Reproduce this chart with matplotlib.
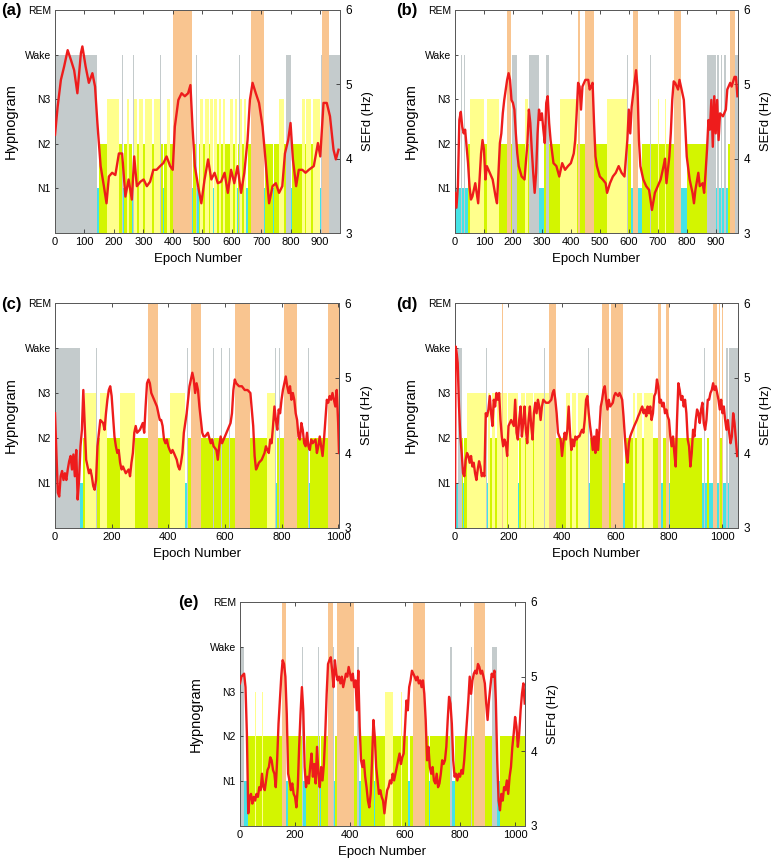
import numpy as np
import matplotlib.pyplot as plt

plt.rcParams['font.family'] = ['Liberation Sans', 'DejaVu Sans']

# hypnogram stages: 1=N1, 2=N2, 3=N3, 4=Wake, 5=REM
stage_labels = ['N1', 'N2', 'N3', 'Wake', 'REM']
stage_colors = {1: '#45e3e6', 2: '#d3f500', 3: '#ffff8c', 4: '#c4cbcc', 5: '#f9c590'}

# ---------------- panel (a) ----------------
a_n_epochs = 968
a_seg_start = [0, 144, 150, 158, 160, 177, 217, 228, 230, 234,
               245, 252, 262, 266, 268, 278, 284, 300, 306, 330,
               336, 357, 359, 366, 369, 380, 392, 402, 464, 468,
               480, 482, 488, 494, 502, 508, 522, 528, 536, 538,
               541, 550, 556, 564, 570, 578, 586, 588, 596, 604,
               610, 618, 621, 626, 628, 636, 642, 648, 650, 654,
               666, 710, 714, 740, 743, 760, 778, 783, 800, 806,
               840, 848, 854, 870, 876, 900, 903, 906, 929]
a_seg_stage = [4, 1, 2, 4, 2, 3, 2, 4, 1, 2,
               3, 2, 1, 4, 3, 2, 3, 2, 3, 2,
               3, 4, 2, 1, 2, 3, 2, 5, 1, 2,
               4, 1, 2, 3, 2, 3, 2, 3, 4, 1,
               3, 2, 3, 2, 3, 2, 4, 2, 3, 2,
               3, 1, 2, 4, 3, 2, 3, 4, 1, 2,
               5, 1, 2, 1, 2, 3, 2, 4, 1, 2,
               3, 2, 3, 2, 3, 1, 4, 5, 4]
a_epochs = [0, 9, 20, 31, 43, 54, 65, 76, 88, 93,
            104, 115, 127, 136, 144, 149, 155, 166, 175, 183,
            194, 205, 217, 228, 239, 250, 261, 269, 278, 290,
            301, 312, 323, 334, 345, 357, 368, 379, 391, 400,
            407, 419, 430, 441, 452, 460, 467, 475, 486, 497,
            508, 520, 531, 542, 553, 564, 576, 587, 598, 609,
            620, 632, 643, 654, 662, 671, 682, 693, 705, 714,
            722, 727, 739, 750, 761, 772, 781, 792, 800, 808,
            819, 828, 840, 851, 862, 879, 893, 901, 912, 923,
            934, 946, 954, 963]
a_sefd = [4.32, 4.70, 5.06, 5.24, 5.46, 5.33, 5.19, 4.88, 5.42, 5.51,
          5.24, 5.02, 5.15, 4.97, 4.48, 4.21, 3.90, 3.63, 3.40, 3.76,
          3.81, 3.78, 4.07, 4.07, 3.49, 3.72, 3.45, 4.03, 3.63, 3.69,
          3.72, 3.63, 3.69, 3.85, 3.85, 3.90, 3.94, 4.03, 3.90, 3.85,
          4.43, 4.79, 4.88, 4.84, 4.88, 4.99, 4.43, 3.90, 3.63, 3.40,
          3.72, 3.99, 3.72, 3.81, 3.67, 3.69, 3.81, 3.54, 3.85, 3.67,
          3.90, 3.54, 3.81, 4.25, 4.79, 5.02, 4.88, 4.75, 4.43, 4.03,
          3.63, 3.40, 3.63, 3.67, 3.54, 3.63, 4.07, 4.25, 4.48, 3.99,
          3.63, 3.85, 3.85, 3.81, 3.85, 3.90, 4.21, 4.03, 4.75, 4.75,
          4.57, 4.12, 3.99, 4.12]

# ---------------- panel (b) ----------------
b_n_epochs = 977
b_seg_start = [0, 5, 20, 24, 32, 34, 44, 52, 100, 109,
               152, 179, 195, 198, 215, 240, 252, 256, 290, 306,
               313, 324, 364, 422, 424, 431, 450, 481, 525, 595,
               598, 606, 613, 633, 645, 672, 675, 700, 703, 725,
               728, 756, 780, 800, 870, 900, 906, 912, 918, 922,
               930, 934, 944, 948, 966]
b_seg_stage = [4, 1, 4, 1, 4, 1, 2, 3, 2, 3,
               2, 5, 2, 4, 2, 3, 2, 4, 1, 2,
               4, 2, 3, 2, 5, 2, 5, 2, 3, 4,
               2, 1, 5, 1, 2, 4, 2, 3, 2, 3,
               2, 5, 1, 2, 4, 1, 4, 1, 4, 1,
               4, 1, 2, 5, 4]
b_epochs = [0, 5, 10, 15, 20, 25, 30, 35, 40, 45,
            50, 55, 60, 70, 80, 90, 95, 100, 105, 110,
            120, 130, 140, 145, 150, 155, 160, 165, 170, 180,
            185, 190, 195, 200, 205, 210, 215, 220, 230, 240,
            250, 255, 260, 265, 270, 275, 280, 285, 290, 295,
            300, 305, 310, 315, 320, 325, 330, 340, 350, 360,
            370, 380, 390, 400, 410, 415, 420, 425, 430, 435,
            440, 450, 460, 465, 470, 475, 480, 485, 490, 500,
            510, 520, 525, 535, 545, 555, 565, 575, 585, 595,
            600, 605, 610, 620, 625, 630, 635, 640, 650, 660,
            670, 680, 690, 700, 710, 720, 725, 730, 740, 745,
            750, 755, 760, 770, 775, 780, 790, 795, 800, 810,
            820, 825, 830, 840, 845, 855, 860, 865, 870, 875,
            880, 885, 890, 895, 900, 905, 910, 915, 925, 935,
            940, 950, 955, 965, 970, 975]
b_sefd = [3.54, 3.34, 3.63, 4.52, 4.63, 4.43, 4.34, 4.39, 4.16, 3.94,
          3.63, 3.45, 3.49, 3.67, 3.40, 4.07, 4.25, 4.12, 3.72, 3.90,
          3.81, 3.72, 3.49, 3.40, 3.81, 4.21, 4.34, 4.61, 4.79, 5.06,
          5.15, 5.06, 4.79, 4.75, 4.66, 4.34, 4.07, 3.90, 3.76, 3.72,
          4.21, 4.66, 4.48, 4.12, 3.81, 3.54, 3.81, 4.34, 4.66, 4.52,
          4.61, 4.39, 4.21, 4.75, 4.84, 4.48, 4.25, 3.94, 3.90, 3.76,
          3.94, 3.85, 3.90, 3.94, 4.07, 4.25, 4.61, 5.02, 4.97, 4.66,
          4.97, 5.06, 5.06, 4.93, 4.97, 5.02, 4.48, 4.03, 3.90, 3.76,
          3.72, 3.67, 3.54, 3.67, 3.76, 3.81, 3.90, 3.81, 3.76, 4.25,
          4.66, 4.34, 4.70, 5.02, 5.19, 4.97, 4.25, 3.90, 3.72, 3.63,
          3.58, 3.31, 3.54, 3.63, 3.72, 3.90, 4.00, 3.67, 4.03, 4.34,
          4.79, 5.04, 5.02, 4.93, 5.06, 4.97, 4.79, 4.43, 4.03, 3.72,
          3.54, 3.40, 3.58, 3.81, 3.63, 3.67, 3.54, 3.81, 4.12, 4.52,
          4.39, 4.79, 4.16, 4.84, 4.34, 4.79, 4.25, 4.61, 4.57, 4.66,
          4.93, 5.02, 4.97, 5.10, 5.10, 4.84]

# ---------------- panel (c) ----------------
c_n_epochs = 1003
c_seg_start = [0, 88, 98, 100, 106, 145, 147, 160, 185, 194,
               196, 230, 281, 283, 330, 365, 405, 420, 422, 460,
               466, 468, 479, 515, 558, 560, 588, 590, 616, 618,
               635, 690, 750, 778, 780, 785, 792, 795, 810, 855,
               893, 896, 900, 965]
c_seg_stage = [4, 1, 4, 2, 3, 4, 2, 3, 2, 4,
               2, 3, 4, 2, 5, 2, 3, 4, 3, 1,
               4, 2, 5, 2, 4, 2, 4, 2, 4, 2,
               5, 2, 3, 4, 1, 2, 4, 2, 5, 2,
               4, 1, 2, 5]
c_epochs = [0, 5, 10, 15, 20, 25, 30, 35, 40, 45,
            50, 55, 60, 65, 70, 75, 80, 85, 90, 95,
            100, 105, 110, 115, 120, 125, 130, 135, 140, 145,
            150, 155, 160, 170, 175, 180, 185, 190, 195, 200,
            205, 210, 215, 220, 225, 230, 235, 240, 250, 260,
            265, 270, 275, 280, 285, 290, 300, 310, 315, 320,
            325, 330, 335, 340, 350, 360, 365, 370, 375, 380,
            385, 390, 395, 400, 405, 410, 415, 420, 430, 435,
            440, 445, 450, 455, 460, 465, 470, 475, 480, 485,
            490, 495, 500, 505, 510, 515, 520, 525, 530, 540,
            550, 555, 560, 570, 575, 580, 585, 590, 600, 610,
            620, 625, 630, 635, 640, 650, 660, 670, 680, 690,
            700, 705, 710, 715, 720, 730, 740, 745, 750, 755,
            760, 765, 770, 775, 780, 785, 790, 795, 800, 805,
            810, 815, 820, 825, 830, 835, 840, 845, 850, 855,
            860, 865, 870, 875, 880, 885, 890, 895, 900, 905,
            910, 920, 925, 930, 935, 940, 945, 950, 955, 960,
            965, 970, 975, 980, 985, 990, 995, 1000, 1003]
c_sefd = [4.53, 4.00, 3.47, 3.42, 3.69, 3.76, 3.64, 3.73, 3.64, 3.78,
          3.89, 3.96, 3.78, 3.98, 3.69, 4.04, 3.38, 3.64, 4.09, 4.31,
          4.84, 4.36, 3.91, 3.82, 3.73, 3.78, 3.69, 3.56, 3.51, 3.64,
          4.09, 4.27, 4.44, 4.40, 4.31, 4.53, 4.71, 4.84, 4.89, 4.76,
          4.49, 4.22, 4.09, 4.00, 4.04, 3.87, 3.78, 3.82, 3.73, 3.78,
          3.69, 3.87, 4.00, 4.27, 4.36, 4.27, 4.31, 4.40, 4.27, 4.62,
          4.93, 4.98, 4.93, 4.80, 4.71, 4.62, 4.53, 4.44, 4.44, 4.36,
          4.18, 4.13, 4.18, 4.09, 4.04, 4.00, 4.04, 4.00, 3.91, 3.82,
          3.78, 3.87, 4.00, 4.27, 4.40, 4.53, 4.71, 4.89, 4.98, 5.07,
          4.98, 4.80, 4.93, 4.84, 4.62, 4.44, 4.27, 4.22, 4.22, 4.27,
          4.13, 4.18, 4.09, 4.04, 3.91, 4.09, 4.22, 4.13, 4.22, 4.31,
          4.40, 4.53, 4.84, 4.98, 4.93, 4.89, 4.89, 4.84, 4.84, 4.80,
          4.36, 3.96, 3.78, 3.82, 3.87, 3.91, 4.00, 4.09, 4.04, 4.00,
          4.18, 4.13, 4.36, 4.62, 4.44, 4.31, 4.58, 4.53, 4.71, 4.84,
          4.93, 5.02, 4.89, 4.80, 4.89, 4.71, 4.80, 4.71, 4.53, 4.44,
          4.22, 4.18, 4.40, 4.31, 4.13, 4.09, 4.27, 4.09, 4.04, 4.18,
          4.13, 4.18, 4.00, 4.09, 4.22, 4.09, 3.96, 4.18, 4.44, 4.71,
          4.67, 4.76, 4.71, 4.80, 4.71, 4.62, 4.84, 4.40, 4.00]

# ---------------- panel (d) ----------------
d_n_epochs = 1058
d_seg_start = [0, 12, 25, 30, 34, 46, 116, 118, 122, 132,
               138, 150, 156, 176, 179, 195, 200, 236, 239, 248,
               262, 266, 290, 295, 334, 336, 352, 379, 416, 430,
               436, 452, 458, 497, 500, 504, 548, 575, 584, 627,
               634, 664, 672, 680, 700, 706, 740, 758, 771, 776,
               779, 789, 801, 805, 925, 931, 934, 942, 950, 965,
               981, 988, 991, 1000, 1002, 1012, 1020, 1026]
d_seg_stage = [1, 4, 2, 1, 2, 3, 4, 1, 3, 2,
               3, 2, 3, 5, 3, 2, 3, 1, 2, 3,
               2, 3, 2, 3, 4, 3, 5, 2, 3, 2,
               3, 2, 3, 4, 1, 2, 5, 2, 5, 1,
               2, 3, 2, 3, 2, 3, 2, 5, 1, 5,
               2, 5, 1, 2, 1, 4, 1, 2, 1, 5,
               1, 5, 2, 5, 1, 4, 1, 4]
d_epochs = [0, 2, 5, 10, 15, 20, 25, 30, 35, 40,
            45, 50, 55, 60, 65, 70, 75, 80, 85, 90,
            95, 100, 105, 110, 115, 120, 125, 130, 135, 140,
            145, 150, 155, 160, 165, 170, 175, 180, 185, 190,
            195, 200, 210, 220, 225, 230, 235, 240, 245, 250,
            255, 260, 265, 270, 275, 280, 285, 290, 295, 300,
            305, 310, 315, 320, 325, 330, 340, 350, 360, 365,
            370, 375, 380, 385, 390, 395, 400, 405, 410, 415,
            420, 425, 430, 435, 440, 445, 450, 455, 460, 465,
            470, 475, 480, 485, 490, 495, 500, 505, 510, 515,
            520, 525, 530, 535, 540, 545, 550, 555, 560, 565,
            570, 575, 580, 590, 595, 600, 610, 615, 620, 625,
            630, 635, 640, 645, 650, 655, 660, 670, 675, 680,
            685, 690, 695, 700, 705, 710, 715, 720, 725, 730,
            735, 740, 745, 750, 755, 760, 765, 770, 775, 780,
            785, 790, 795, 800, 805, 810, 815, 820, 825, 830,
            835, 840, 845, 850, 855, 860, 865, 870, 875, 880,
            885, 890, 895, 900, 905, 910, 915, 920, 925, 930,
            935, 940, 945, 950, 955, 960, 965, 970, 975, 980,
            985, 990, 995, 1000, 1005, 1010, 1015, 1020, 1025, 1030,
            1035, 1040, 1045, 1050, 1055]
d_sefd = [3.02, 5.42, 5.38, 5.20, 4.62, 4.22, 4.00, 3.73, 3.69, 3.91,
          4.00, 3.96, 3.87, 3.96, 3.82, 3.87, 3.73, 3.64, 3.78, 3.89,
          3.82, 3.69, 3.73, 3.69, 4.53, 4.49, 4.58, 4.76, 4.53, 4.36,
          4.71, 4.62, 4.80, 4.71, 4.80, 4.44, 4.22, 4.09, 4.18, 4.13,
          3.96, 4.36, 4.44, 4.36, 4.71, 4.27, 4.18, 4.44, 4.62, 4.22,
          4.40, 4.62, 4.31, 4.13, 4.44, 4.62, 4.36, 4.18, 4.53, 4.67,
          4.53, 4.71, 4.62, 4.44, 4.62, 4.71, 4.67, 4.67, 4.71, 4.80,
          4.84, 4.71, 4.53, 4.27, 4.22, 4.18, 3.96, 4.13, 4.27, 4.18,
          4.31, 4.62, 4.27, 4.04, 4.18, 4.09, 4.22, 4.18, 4.22, 4.22,
          4.27, 4.31, 4.27, 4.44, 4.71, 4.76, 4.53, 4.36, 4.22, 4.04,
          4.22, 4.00, 4.31, 4.04, 4.31, 4.62, 4.71, 4.84, 4.89, 4.71,
          4.58, 4.71, 4.62, 4.67, 4.76, 4.80, 4.76, 4.80, 4.76, 4.71,
          4.49, 4.22, 4.00, 3.87, 4.13, 4.22, 4.27, 4.36, 4.40, 4.44,
          4.49, 4.53, 4.58, 4.62, 4.53, 4.58, 4.49, 4.62, 4.53, 4.62,
          4.44, 4.53, 4.76, 4.80, 4.98, 4.89, 4.67, 4.71, 4.62, 4.67,
          4.53, 4.58, 4.49, 4.44, 4.22, 4.09, 4.22, 4.00, 3.82, 4.44,
          4.93, 4.84, 4.71, 4.76, 4.62, 4.71, 4.53, 4.18, 4.09, 3.82,
          4.00, 4.31, 4.22, 4.44, 4.58, 4.53, 4.40, 4.58, 4.67, 4.40,
          4.31, 4.44, 4.71, 4.71, 4.80, 4.84, 4.93, 4.84, 4.89, 4.80,
          4.71, 4.58, 4.71, 4.53, 4.62, 4.44, 4.31, 4.44, 4.27, 4.13,
          4.22, 4.53, 4.40, 4.18, 3.96]

# ---------------- panel (e) ----------------
e_n_epochs = 1036
e_seg_start = [0, 15, 30, 55, 57, 80, 82, 108, 110, 152,
               167, 176, 224, 230, 240, 265, 267, 285, 287, 290,
               294, 321, 337, 340, 346, 354, 416, 424, 431, 440,
               486, 490, 527, 555, 585, 588, 610, 618, 628, 674,
               686, 690, 744, 746, 764, 772, 782, 839, 844, 852,
               891, 917, 933, 945]
e_seg_stage = [4, 1, 2, 3, 2, 3, 2, 3, 2, 5,
               1, 2, 4, 1, 2, 4, 2, 4, 2, 1,
               2, 5, 4, 1, 2, 5, 2, 4, 1, 2,
               1, 2, 3, 2, 3, 2, 1, 2, 5, 2,
               1, 2, 4, 2, 4, 1, 2, 4, 2, 5,
               2, 4, 1, 2]
e_epochs = [0, 5, 10, 15, 20, 25, 30, 35, 40, 45,
            50, 55, 60, 65, 70, 75, 80, 85, 90, 95,
            100, 105, 110, 115, 120, 125, 130, 135, 140, 145,
            150, 155, 160, 165, 170, 175, 180, 185, 190, 195,
            200, 205, 210, 215, 220, 225, 230, 235, 240, 245,
            250, 255, 260, 265, 270, 275, 280, 285, 290, 295,
            300, 305, 310, 315, 320, 325, 330, 335, 340, 345,
            350, 355, 360, 365, 370, 375, 380, 385, 390, 395,
            400, 405, 410, 415, 420, 425, 430, 435, 440, 445,
            450, 455, 460, 465, 470, 475, 480, 485, 490, 495,
            500, 505, 510, 515, 520, 525, 530, 535, 540, 545,
            550, 555, 560, 565, 570, 575, 580, 585, 590, 595,
            600, 605, 610, 615, 620, 625, 630, 635, 640, 645,
            650, 655, 660, 665, 670, 675, 680, 685, 690, 695,
            700, 705, 710, 715, 720, 725, 730, 735, 740, 745,
            750, 755, 760, 765, 770, 775, 780, 785, 790, 795,
            800, 805, 810, 815, 820, 825, 830, 835, 840, 845,
            850, 855, 860, 865, 870, 875, 880, 885, 890, 895,
            900, 905, 910, 915, 920, 925, 930, 935, 940, 945,
            950, 955, 960, 965, 970, 975, 980, 985, 990, 995,
            1000, 1005, 1010, 1015, 1020, 1025, 1030, 1035]
e_sefd = [4.91, 5.00, 5.02, 5.04, 4.86, 4.24, 3.17, 3.39, 3.43, 3.30,
          3.39, 3.34, 3.43, 3.39, 3.52, 3.48, 3.70, 3.52, 3.48, 3.61,
          3.75, 3.79, 3.92, 3.88, 3.75, 3.70, 3.52, 3.88, 4.37, 4.68,
          5.00, 5.22, 5.17, 5.00, 4.50, 3.70, 3.61, 3.48, 3.57, 3.43,
          3.39, 3.25, 3.52, 4.06, 4.50, 4.86, 4.55, 3.79, 3.52, 3.66,
          3.57, 3.79, 3.97, 3.66, 3.83, 3.57, 4.06, 3.70, 3.52, 3.79,
          3.61, 3.83, 4.24, 4.77, 5.17, 5.22, 5.26, 5.08, 4.86, 5.22,
          5.04, 4.95, 5.00, 4.91, 5.00, 4.86, 4.95, 5.04, 5.00, 5.13,
          5.04, 4.95, 5.04, 4.86, 4.95, 4.55, 5.08, 4.33, 3.88, 3.79,
          3.88, 3.66, 3.52, 3.34, 3.25, 3.43, 3.88, 4.42, 4.19, 3.79,
          3.61, 3.43, 3.48, 3.39, 3.34, 3.17, 3.34, 3.48, 3.52, 3.61,
          3.57, 3.70, 3.61, 3.70, 3.79, 3.88, 3.97, 3.83, 3.92, 3.97,
          4.33, 4.68, 4.55, 4.86, 4.95, 5.08, 5.04, 5.00, 4.95, 5.00,
          4.91, 4.95, 4.86, 4.95, 4.77, 4.42, 3.88, 4.06, 3.79, 3.70,
          3.79, 3.61, 3.57, 3.70, 3.52, 3.57, 3.70, 3.88, 3.83, 3.88,
          4.06, 4.42, 4.73, 4.64, 4.37, 3.88, 3.66, 3.70, 3.61, 3.70,
          3.66, 3.75, 3.70, 3.88, 4.15, 4.42, 4.68, 5.00, 4.77, 4.95,
          5.04, 5.08, 5.04, 5.17, 5.13, 5.04, 5.08, 5.00, 4.91, 4.64,
          4.42, 4.68, 4.86, 5.04, 5.00, 5.08, 4.68, 3.88, 3.34, 3.21,
          3.43, 3.34, 3.52, 3.48, 3.61, 3.43, 3.66, 3.79, 4.06, 4.24,
          4.46, 4.33, 4.06, 4.24, 4.55, 4.77, 4.91, 4.64]

W, H = 775, 861
fig = plt.figure(figsize=(W / 100, H / 100), dpi=100)


def draw_panel(box_px, tag, tag_xy, seg_start, seg_stage, n_epochs,
               epochs, sefd, xticks):
    left, top, right, bottom = box_px
    ax = fig.add_axes([left / W, 1 - bottom / H, (right - left) / W, (bottom - top) / H])
    starts = np.array(seg_start)
    widths = np.diff(np.append(starts, n_epochs))
    ax.bar(starts, seg_stage, width=widths, align='edge',
           color=[stage_colors[s] for s in seg_stage], linewidth=0, zorder=1)
    ax.set_xlim(0, n_epochs)
    ax.set_ylim(0, 5)
    ax.set_yticks([1, 2, 3, 4, 5])
    ax.set_yticklabels(stage_labels)
    ax.set_xticks(xticks)
    ax.set_xlabel('Epoch Number', fontsize=9.5, labelpad=4)
    ax.set_ylabel('Hypnogram', fontsize=10.5, labelpad=5)
    ax.tick_params(direction='in', length=3, width=0.6, labelsize=8, pad=3,
                   top=True, color='#333333')
    ax.tick_params(axis='y', length=2, labelsize=7.5, pad=3)

    ax2 = ax.twinx()
    ax2.plot(epochs, sefd, color='#ee1c1c', lw=1.7, zorder=3)
    ax2.set_ylim(3, 6)
    ax2.set_yticks([3, 4, 5, 6])
    ax2.set_ylabel('SEFd (Hz)', fontsize=9.3, labelpad=7)
    ax2.tick_params(direction='in', length=3, width=0.6, labelsize=8.5, pad=4,
                    color='#333333')
    for a in (ax, ax2):
        for sp in a.spines.values():
            sp.set_color('#5a5a5a')
            sp.set_linewidth(0.7)
    fig.text(tag_xy[0] / W, 1 - tag_xy[1] / H, tag, fontsize=12,
             fontweight='bold', va='center', ha='left')


draw_panel((55, 10, 340, 233), '(a)', (1, 11), a_seg_start, a_seg_stage,
           a_n_epochs, a_epochs, a_sefd, range(0, 901, 100))
draw_panel((455, 10, 738, 233), '(b)', (396, 11), b_seg_start, b_seg_stage,
           b_n_epochs, b_epochs, b_sefd, range(0, 901, 100))
draw_panel((55, 303, 339, 528), '(c)', (1, 304), c_seg_start, c_seg_stage,
           c_n_epochs, c_epochs, c_sefd, range(0, 1001, 200))
draw_panel((455, 303, 738, 528), '(d)', (396, 304), d_seg_start, d_seg_stage,
           d_n_epochs, d_epochs, d_sefd, range(0, 1001, 200))
draw_panel((240, 602, 525, 826), '(e)', (178, 603), e_seg_start, e_seg_stage,
           e_n_epochs, e_epochs, e_sefd, range(0, 1001, 200))

fig.savefig('out.png', dpi=100)
